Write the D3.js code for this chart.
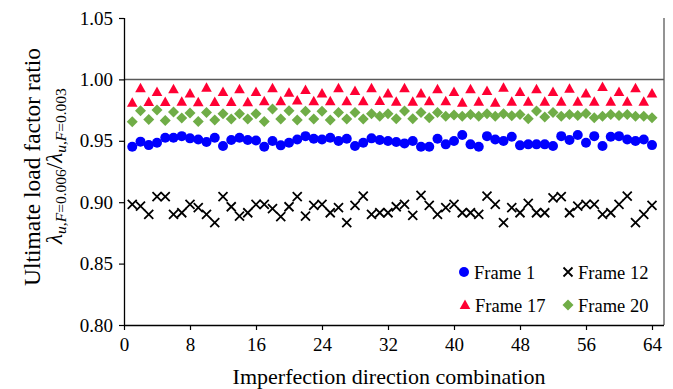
<!DOCTYPE html>
<html><head><meta charset="utf-8">
<script src="https://cdn.jsdelivr.net/npm/d3@7"></script>
<style>
html,body{margin:0;padding:0;background:#fff;}
svg text{font-family:"Liberation Serif","Times New Roman",serif;fill:#000;}
</style></head>
<body><svg id="c" width="673" height="389"></svg>
<script>
const combos = [1,2,3,4,5,6,7,8,9,10,11,12,13,14,15,16,17,18,19,20,21,22,23,24,25,26,27,28,29,30,31,32,
  33,34,35,36,37,38,39,40,41,42,43,44,45,46,47,48,49,50,51,52,53,54,55,56,57,58,59,60,61,62,63,64];
const frame1 = [0.9452,0.9493,0.9465,0.9484,0.9525,0.9525,0.9538,0.952,0.951,0.949,0.9525,0.9457,0.9506,0.9525,0.9506,
  0.9503,0.9452,0.9498,0.9463,0.9484,0.951,0.9538,0.9517,0.951,0.9525,0.9498,0.9517,0.9457,0.9484,0.952,0.9506,0.9498,
  0.949,0.9479,0.9498,0.9452,0.9452,0.9517,0.9471,0.9498,0.9547,0.9471,0.9452,0.9538,0.951,0.9498,0.9533,0.9463,
  0.9471,0.9471,0.9471,0.9457,0.9538,0.9506,0.9547,0.9484,0.9538,0.9457,0.9533,0.9538,0.951,0.9498,0.951,0.9465];
const frame12 = [0.8982,0.8968,0.890,0.9045,0.9045,0.890,0.8914,0.8982,0.8955,0.890,0.8833,0.9045,0.8963,0.8887,0.8914,
  0.8982,0.8982,0.8947,0.8882,0.8963,0.9045,0.8887,0.8974,0.8982,0.8914,0.8955,0.8833,0.8974,0.905,0.890,0.8914,0.8914,
  0.8963,0.8982,0.8893,0.9055,0.8974,0.890,0.8955,0.8982,0.8914,0.8914,0.890,0.905,0.8982,0.8833,0.8955,0.8914,
  0.899,0.8914,0.8914,0.9036,0.9045,0.8914,0.8968,0.8982,0.8982,0.890,0.8914,0.8982,0.905,0.8833,0.890,0.8974];
const frame17 = [0.981,0.9927,0.9815,0.9897,0.9815,0.9919,0.9818,0.9886,0.9813,0.9932,0.9815,0.9897,0.9815,0.9919,0.9813,
  0.9897,0.9822,0.9927,0.9822,0.9891,0.9829,0.9913,0.9822,0.9886,0.9822,0.9927,0.9822,0.9905,0.9822,0.9927,0.9825,0.9886,
  0.9818,0.9927,0.9818,0.9886,0.9822,0.9919,0.9822,0.9897,0.981,0.9919,0.9818,0.9905,0.981,0.9932,0.9818,0.9897,
  0.9818,0.9919,0.9818,0.9897,0.9818,0.9924,0.9818,0.9886,0.9818,0.9938,0.9818,0.9897,0.9818,0.9927,0.9818,0.9886];
const frame20 = [0.9655,0.9745,0.9674,0.975,0.9666,0.9734,0.9685,0.9726,0.9658,0.9731,0.9669,0.972,0.9677,0.972,0.9677,
  0.972,0.9658,0.9758,0.9677,0.9745,0.9669,0.974,0.9677,0.974,0.9669,0.9731,0.9677,0.9731,0.9677,0.972,0.970,0.972,
  0.968,0.9742,0.968,0.973,0.9688,0.973,0.970,0.971,0.970,0.9715,0.970,0.972,0.970,0.972,0.9705,0.9715,
  0.968,0.9742,0.9693,0.973,0.970,0.9715,0.9707,0.9723,0.9688,0.970,0.9715,0.9707,0.9715,0.970,0.970,0.9688];
const xTicks = [0,8,16,24,32,40,48,56,64];
const yTicks = [0.80,0.85,0.90,0.95,1.00,1.05];
const seriesNames = ["Frame 1","Frame 12","Frame 17","Frame 20"];

const svg = d3.select("#c");
const L = 124, R = 664, T = 18, B = 325;
const x = d3.scaleLinear().domain([0, 64]).range([L, 652]);
const y = d3.scaleLinear().domain([0.80, 1.05]).range([B, T]);
const FONT = '"Liberation Serif","Times New Roman",serif';

// reference line at 1.00
svg.append("line").attr("x1", L).attr("x2", R).attr("y1", y(1.0)).attr("y2", y(1.0))
  .attr("stroke", "#595959").attr("stroke-width", 1.5);
// right border
svg.append("line").attr("x1", R).attr("x2", R).attr("y1", T).attr("y2", B)
  .attr("stroke", "#595959").attr("stroke-width", 1.3);

// axes
const yAxis = d3.axisLeft(y).tickValues(yTicks).tickFormat(d3.format(".2f")).tickSize(5).tickPadding(6);
const gy = svg.append("g").attr("transform", `translate(${L},0)`).call(yAxis);
const xAxis = d3.axisBottom(x).tickValues(xTicks).tickFormat(d3.format("d")).tickSize(5).tickPadding(8);
const gx = svg.append("g").attr("transform", `translate(0,${B})`).call(xAxis);
[gx, gy].forEach(g => {
  g.select(".domain").attr("stroke", "#000").attr("stroke-width", 1.3);
  g.selectAll(".tick line").attr("stroke", "#000").attr("stroke-width", 1.2);
  g.selectAll(".tick text").style("font-size", "19px").style("font-family", FONT).attr("fill", "#000");
});
gx.select(".domain").attr("d", `M${L},0.5H${R}`);
gy.select(".domain").attr("d", `M0.5,${B}V${T}`);

// markers
const sym = {
  "Frame 1": (g, cx, cy) => g.append("circle").attr("cx", cx).attr("cy", cy).attr("r", 5).attr("fill", "#0000FF"),
  "Frame 12": (g, cx, cy) => g.append("path").attr("d", `M${cx-4.5},${cy-4.5}L${cx+4.5},${cy+4.5}M${cx-4.5},${cy+4.5}L${cx+4.5},${cy-4.5}`)
      .attr("stroke", "#000").attr("stroke-width", 1.8).attr("fill", "none"),
  "Frame 17": (g, cx, cy) => g.append("path").attr("d", `M${cx},${cy-5.5}L${cx+5.3},${cy+4}L${cx-5.3},${cy+4}Z`).attr("fill", "#FF0033"),
  "Frame 20": (g, cx, cy) => g.append("path").attr("d", `M${cx},${cy-5.5}L${cx+5.5},${cy}L${cx},${cy+5.5}L${cx-5.5},${cy}Z`).attr("fill", "#70AD47")
};
const dataBy = {"Frame 1": frame1, "Frame 12": frame12, "Frame 17": frame17, "Frame 20": frame20};
seriesNames.forEach(name => {
  const g = svg.append("g");
  dataBy[name].forEach((v, i) => sym[name](g, x(combos[i]), y(v)));
});

// legend
const leg = svg.append("g");
const legPos = [[464, 272], [568, 272], [465, 305], [568, 305]];
seriesNames.forEach((name, i) => {
  const [lx, ly] = legPos[i];
  sym[name](leg, lx, ly);
  leg.append("text").attr("x", lx + 10).attr("y", ly + 6.5).style("font-size", "18.5px").text(name);
});

// axis titles
svg.append("text").attr("x", 389).attr("y", 384).attr("text-anchor", "middle").style("font-size", "22px")
  .text("Imperfection direction combination");
svg.append("text").attr("transform", "translate(40,167) rotate(-90)").attr("text-anchor", "middle").style("font-size", "23.5px")
  .text("Ultimate load factor ratio");
const t2 = svg.append("text").attr("transform", "translate(62,166) rotate(-90)").attr("text-anchor", "middle").style("font-size", "23px");
function sub(t, txt, it) {
  t.append("tspan").attr("baseline-shift", "-22%").style("font-size", "15.5px").style("font-style", it ? "italic" : "normal").text(txt);
}
function lam(t) {
  t.append("tspan").style("font-style", "italic").text("λ");
  sub(t, "u", true); sub(t, ",", false); sub(t, "F", true);
}
lam(t2); sub(t2, "=0.006", false);
t2.append("tspan").text("/");
lam(t2); sub(t2, "=0.003", false);
</script></body></html>
